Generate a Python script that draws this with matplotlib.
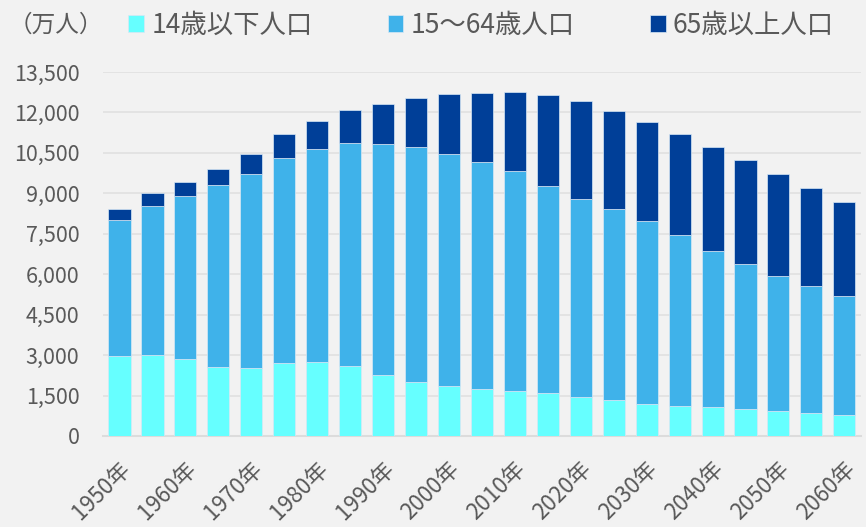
import numpy as np
import matplotlib.pyplot as plt

plt.rcParams['font.family'] = ['Noto Sans CJK JP', 'DejaVu Sans']

years = ['1950年', '1955年', '1960年', '1965年', '1970年', '1975年', '1980年', '1985年',
         '1990年', '1995年', '2000年', '2005年', '2010年', '2015年', '2020年', '2025年',
         '2030年', '2035年', '2040年', '2045年', '2050年', '2055年', '2060年']
# 万人
age_0_14 = [2979, 3012, 2843, 2553, 2515, 2722, 2751, 2603, 2249, 2001, 1847, 1752,
            1680, 1583, 1457, 1324, 1204, 1129, 1073, 1012, 939, 861, 791]
age_15_64 = [5017, 5517, 6047, 6744, 7212, 7581, 7883, 8251, 8590, 8716, 8622, 8409,
             8150, 7682, 7341, 7085, 6773, 6343, 5787, 5353, 5001, 4706, 4418]
age_65 = [416, 475, 535, 618, 739, 887, 1065, 1247, 1489, 1826, 2201, 2567,
          2920, 3395, 3612, 3657, 3685, 3741, 3868, 3856, 3768, 3626, 3464]

bg = '#f2f2f2'
txt = '#595959'

fig = plt.figure(figsize=(8.66, 5.27), dpi=100, facecolor=bg)
ax = fig.add_axes([0.119, 0.1727, 0.875, 0.6907], facecolor=bg)

x = np.arange(len(years))
a = np.array(age_0_14)
b = np.array(age_15_64)
c = np.array(age_65)
w = 0.67
ec = dict(edgecolor='#d8e8f5', linewidth=0.5)
h1 = ax.bar(x, a, w, color='#66ffff', label='14歳以下人口', zorder=3, **ec)
h2 = ax.bar(x, b, w, bottom=a, color='#3fb2ea', label='15～64歳人口', zorder=3, **ec)
h3 = ax.bar(x, c, w, bottom=a + b, color='#003f98', label='65歳以上人口', zorder=3, **ec)

ax.set_xlim(-0.5, len(years) - 0.5)
ax.set_ylim(0, 13500)
ax.set_yticks(np.arange(0, 13501, 1500))
ax.set_yticklabels([f'{v:,}' for v in range(0, 13501, 1500)])
ax.grid(axis='y', color='#e0e0e0', linewidth=1.2, zorder=0)
for s in ['top', 'right', 'left']:
    ax.spines[s].set_visible(False)
ax.spines['bottom'].set_color('#dcdcdc')
ax.spines['bottom'].set_linewidth(1.5)

ax.set_xticks(x[::2] + 0.22)
ax.set_xticklabels(years[::2], rotation=45, ha='right', va='center', rotation_mode='anchor')
ax.tick_params(axis='both', length=0, colors=txt)
ax.tick_params(axis='y', pad=17, labelsize=15.5)
ax.tick_params(axis='x', pad=21, labelsize=16)

fig.text(0.01, 0.952, '（万人）', color=txt, fontsize=17, va='center', ha='left')
fig.legend(handles=[h1, h2, h3], loc='center left', bbox_to_anchor=(0.148, 0.952),
           ncol=3, frameon=False, fontsize=19, labelcolor=txt,
           handlelength=0.6, handleheight=0.6, handletextpad=0.27, columnspacing=2.85,
           borderaxespad=0, borderpad=0)

fig.savefig('out.png', dpi=100, facecolor=bg)
